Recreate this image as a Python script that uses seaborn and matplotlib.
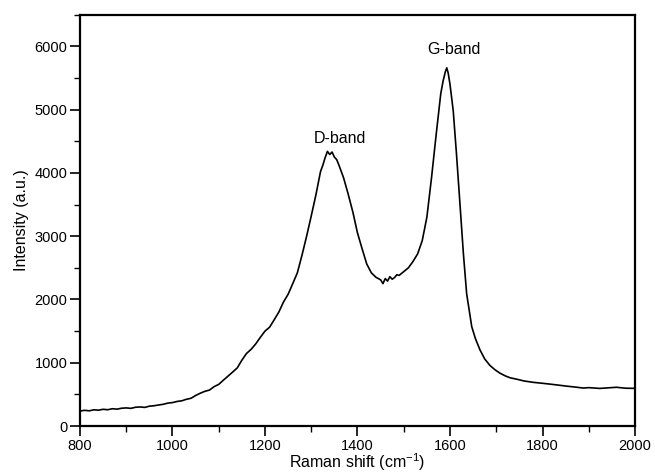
import numpy as np
import pandas as pd
import matplotlib
matplotlib.use("Agg")
import matplotlib.pyplot as plt
from matplotlib.ticker import MultipleLocator
import seaborn as sns

# Raman spectrum
raman_shift = [800, 810, 820, 830, 840, 850, 860, 870, 880, 890,
               900, 910, 920, 930, 940, 950, 960, 970, 980, 990,
               1000, 1010, 1020, 1030, 1040, 1050, 1060, 1070, 1080, 1090,
               1100, 1110, 1120, 1130, 1140, 1150, 1160, 1170, 1180, 1190,
               1200, 1210, 1220, 1230, 1240, 1250, 1260, 1270, 1280, 1290,
               1300, 1310, 1320, 1325, 1330, 1335, 1340, 1345, 1350, 1355,
               1360, 1370, 1380, 1390, 1400, 1410, 1420, 1430, 1440, 1450,
               1455, 1460, 1465, 1470, 1475, 1480, 1485, 1490, 1500, 1510,
               1520, 1530, 1540, 1550, 1560, 1570, 1580, 1585, 1590, 1593,
               1596, 1600, 1607, 1614, 1622, 1629, 1636, 1647, 1655, 1665,
               1675, 1686, 1697, 1708, 1720, 1730, 1744, 1760, 1780, 1800,
               1816, 1830, 1852, 1870, 1888, 1900, 1924, 1940, 1960, 1980,
               2000]
intensity = [236, 248, 240, 256, 250, 264, 257, 273, 266, 281,
             286, 279, 296, 301, 294, 313, 320, 332, 343, 362,
             370, 388, 398, 422, 438, 482, 518, 548, 568, 622,
             658, 724, 788, 852, 918, 1040, 1146, 1212, 1298, 1402,
             1500, 1562, 1680, 1802, 1960, 2082, 2250, 2422, 2700, 3000,
             3320, 3650, 4020, 4120, 4240, 4340, 4290, 4330, 4250, 4210,
             4120, 3920, 3660, 3380, 3050, 2800, 2560, 2420, 2350, 2310,
             2250, 2330, 2290, 2360, 2320, 2345, 2390, 2380, 2440, 2500,
             2600, 2720, 2930, 3300, 3920, 4600, 5250, 5450, 5600, 5660,
             5580, 5400, 4980, 4300, 3460, 2720, 2090, 1570, 1380, 1200,
             1060, 960, 890, 835, 790, 762, 740, 712, 690, 675,
             662, 650, 630, 616, 600, 606, 594, 602, 612, 597,
             595]

band_labels = ["D-band", "G-band"]
band_x = [1361, 1609]
band_y = [4540, 5953]

x_ticks = [800, 1000, 1200, 1400, 1600, 1800, 2000]
y_ticks = [0, 1000, 2000, 3000, 4000, 5000, 6000]

df = pd.DataFrame({"Raman shift": raman_shift, "Intensity": intensity})

sns.set_theme(style="ticks")
plt.rcParams["font.family"] = ["Liberation Sans", "DejaVu Sans"]
plt.rcParams["mathtext.fontset"] = "custom"
plt.rcParams["mathtext.rm"] = "Liberation Sans"
plt.rcParams["mathtext.it"] = "Liberation Sans:italic"

fig = plt.figure(figsize=(6.55, 4.76), dpi=100)
ax = fig.add_axes([80 / 655, 50 / 476, 555 / 655, 411.3 / 476])

sns.lineplot(data=df, x="Raman shift", y="Intensity", color="black",
             linewidth=1.2, ax=ax, estimator=None, sort=False)

ax.set_xlim(800, 2000)
ax.set_ylim(0, 6500)
ax.set_xticks(x_ticks)
ax.set_yticks(y_ticks)
ax.xaxis.set_minor_locator(MultipleLocator(100))
ax.yaxis.set_minor_locator(MultipleLocator(500))
ax.tick_params(which="major", direction="out", length=7, width=1.2,
               labelsize=10.5, colors="black", pad=2)
ax.tick_params(which="minor", direction="out", length=4, width=1.0,
               colors="black")
ax.tick_params(top=False, right=False, which="both")

for s in ax.spines.values():
    s.set_visible(True)
    s.set_linewidth(1.6)
    s.set_color("black")

ax.set_xlabel("Raman shift (cm$^{-1}$)", fontsize=11.5, labelpad=-1, color="black")
ax.set_ylabel("Intensity (a.u.)", fontsize=11.5, labelpad=4, color="black")

for lab, bx, by in zip(band_labels, band_x, band_y):
    ax.text(bx, by, lab, ha="center", va="center", fontsize=11.5, color="black")

fig.savefig("out.png", dpi=100)
